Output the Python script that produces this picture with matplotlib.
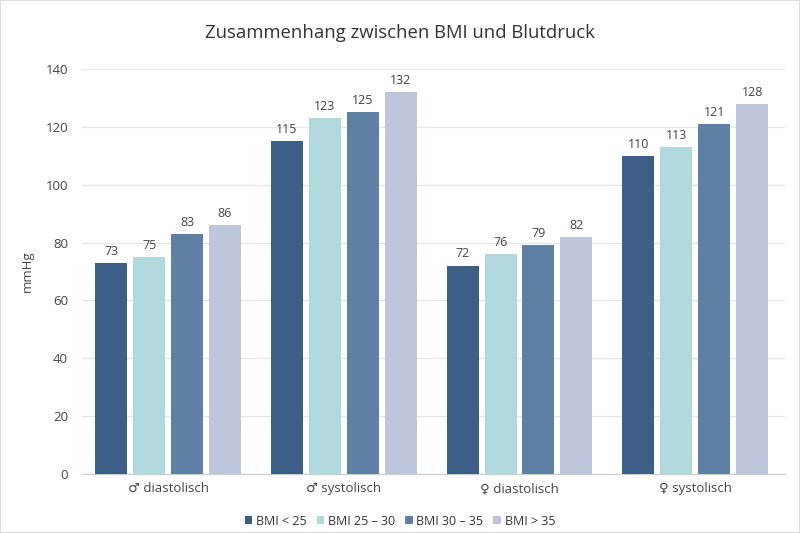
import numpy as np
import matplotlib.pyplot as plt
from matplotlib.patches import Rectangle

plt.rcParams['font.family'] = ['Open Sans', 'DejaVu Sans']

categories = ["♂ diastolisch", "♂ systolisch", "♀ diastolisch", "♀ systolisch"]
series_names = ["BMI < 25", "BMI 25 – 30", "BMI 30 – 35", "BMI > 35"]
bmi_lt25 = [73, 115, 72, 110]
bmi_25_30 = [75, 123, 76, 113]
bmi_30_35 = [83, 125, 79, 121]
bmi_gt35 = [86, 132, 82, 128]
yticks = [0, 20, 40, 60, 80, 100, 120, 140]

colors = ["#3d5f87", "#b1d8dc", "#5f80a5", "#bec6de"]
series = [bmi_lt25, bmi_25_30, bmi_30_35, bmi_gt35]

fig = plt.figure(figsize=(8, 5.33), dpi=100)
ax = fig.add_axes([0.1025, 0.111, 0.8785, 0.7595])

x = np.arange(len(categories))
width = 0.182
pitch = 0.216
for i, (vals, name, col) in enumerate(zip(series, series_names, colors)):
    pos = x + (i - 1.5) * pitch
    bars = ax.bar(pos, vals, width, color=col, label=name, zorder=3)
    for b, v in zip(bars, vals):
        ax.text(b.get_x() + b.get_width() / 2, v + 1.8, str(v),
                ha='center', va='bottom', fontsize=9, color='#444444')

ax.set_xlim(-0.49, 3.51)
ax.set_ylim(0, 140)
ax.set_yticks(yticks)
ax.set_xticks(x)
ax.set_xticklabels(categories, fontsize=9.5, color='#444444')
ax.tick_params(axis='y', labelsize=9.5, colors='#444444', length=0, pad=10)
ax.tick_params(axis='x', length=0, pad=6)
ax.grid(axis='y', color='#e6e6e6', linewidth=1, zorder=0)
for s in ['top', 'right', 'left']:
    ax.spines[s].set_visible(False)
ax.spines['bottom'].set_color('#cccccc')
ax.set_ylabel("mmHg", fontsize=9.5, color='#444444', labelpad=4)
ax.yaxis.set_label_coords(-0.068, 0.5)

fig.suptitle("Zusammenhang zwischen BMI und Blutdruck", fontsize=13.3,
             color='#333333', x=0.5, y=0.938, va='center')

fig.legend(loc='center', bbox_to_anchor=(0.5, 0.022), ncol=4, frameon=False,
           fontsize=9, handlelength=0.6, handleheight=0.6, handletextpad=0.3,
           columnspacing=0.8, labelcolor='#333333')

fig.patches.append(Rectangle((0, 0), 1, 1, transform=fig.transFigure,
                             fill=False, edgecolor='#dddddd', linewidth=1.5))

fig.savefig("out.png", dpi=100)
